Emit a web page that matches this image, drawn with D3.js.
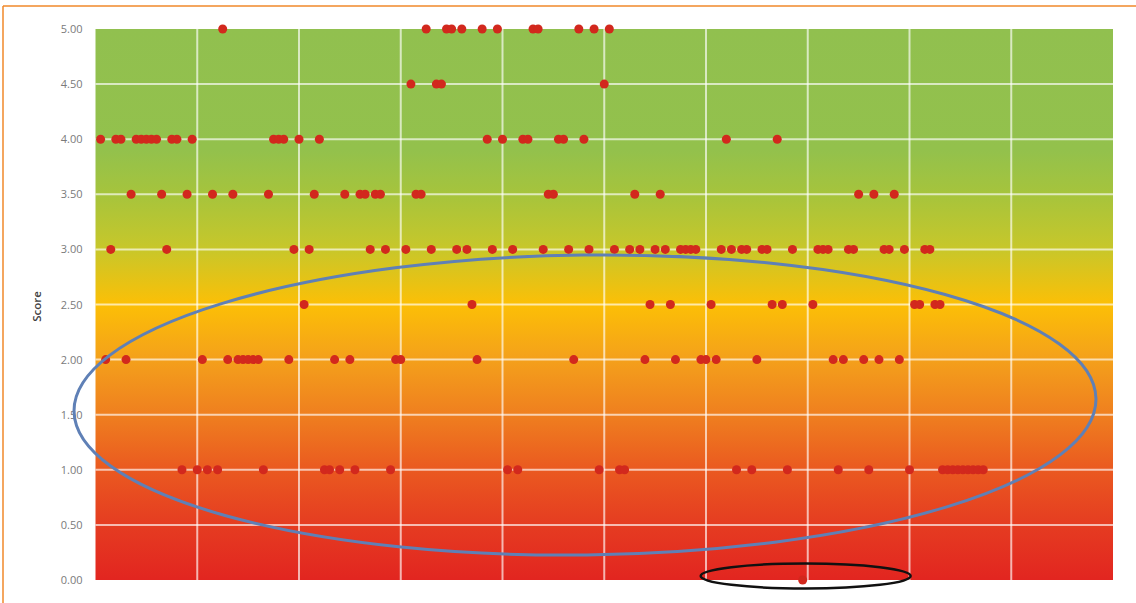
<!DOCTYPE html>
<html>
<head>
<meta charset="utf-8">
<script src="https://cdn.jsdelivr.net/npm/d3@7"></script>
<style>
  html, body { margin: 0; padding: 0; background: #ffffff; }
  svg { display: block; }
</style>
</head>
<body>
<svg id="chart" width="1136" height="603"></svg>
<script>
// Respondent positions (0–200) grouped by the score they gave
const score500 = [25, 65, 69, 70, 72, 76, 79, 86, 87, 95, 98, 101];
const score450 = [62, 67, 68, 100];
const score400 = [1, 4, 5, 8, 9, 10, 11, 12, 15, 16, 19, 35, 36, 37, 40, 44, 77, 80, 84, 85, 91, 92, 96, 124, 134];
const score350 = [7, 13, 18, 23, 27, 34, 43, 49, 52, 53, 55, 56, 63, 64, 89, 90, 106, 111, 150, 153, 157];
const score300 = [3, 14, 39, 42, 54, 57, 61, 66, 71, 73, 78, 82, 88, 93, 97, 102, 105, 107, 110, 112,
                  115, 116, 117, 118, 123, 125, 127, 128, 131, 132, 137, 142, 143, 144, 148, 149, 155, 156, 159, 163, 164];
const score250 = [41, 74, 109, 113, 121, 133, 135, 141, 161, 162, 165, 166];
const score200 = [2, 6, 21, 26, 28, 29, 30, 31, 32, 38, 47, 50, 59, 60, 75, 94, 108, 114, 119, 120, 122, 130, 145, 147, 151, 154, 158];
const score100 = [17, 20, 22, 24, 33, 45, 46, 48, 51, 58, 81, 83, 99, 103, 104, 126, 129, 136, 146, 152, 160,
                  166.5, 167.5, 168.5, 169.5, 170.5, 171.5, 172.5, 173.5, 174.5];
const score000 = [139];

const scoreLevels = [5.0, 4.5, 4.0, 3.5, 3.0, 2.5, 2.0, 1.0, 0.0];
const scoreGroups = [score500, score450, score400, score350, score300, score250, score200, score100, score000];

const yTicks = [0, 0.5, 1, 1.5, 2, 2.5, 3, 3.5, 4, 4.5, 5];
const xGridValues = [20, 40, 60, 80, 100, 120, 140, 160, 180];
const yTitle = "Score";

// Background bands: green for high scores through yellow/orange to red for low scores
const bandScores = [5.0, 3.9, 3.5, 3.0, 2.5, 2.0, 1.5, 1.0, 0.5, 0.0];
const bandColors = ["#91c04f", "#93c14c", "#a6c43c", "#c8c72a", "#fcbf06", "#f4a01b", "#ef7f1f", "#ea5920", "#e53c21", "#e22520"];

const points = [];
scoreGroups.forEach((group, i) => group.forEach(r => points.push({ respondent: r, score: scoreLevels[i] })));

const svg = d3.select("#chart");
const plotLeft = 95.5, plotRight = 1113, plotTop = 29, plotBottom = 580;

const x = d3.scaleLinear().domain([0, 200]).range([plotLeft, plotRight]);
const y = d3.scaleLinear().domain([0, 5]).range([plotBottom, plotTop]);

// Outer frame lines
svg.append("line").attr("x1", 3).attr("x2", 1136).attr("y1", 6).attr("y2", 6)
  .attr("stroke", "#f0892a").attr("stroke-width", 1.5);
svg.append("line").attr("x1", 3).attr("x2", 3).attr("y1", 6).attr("y2", 603)
  .attr("stroke", "#f0892a").attr("stroke-width", 1.5);

// Gradient plot background
const defs = svg.append("defs");
const grad = defs.append("linearGradient").attr("id", "scoreBand")
  .attr("gradientUnits", "userSpaceOnUse")
  .attr("x1", 0).attr("x2", 0).attr("y1", y(5)).attr("y2", y(0));
bandScores.forEach((s, i) => {
  grad.append("stop")
    .attr("offset", (y(s) - y(5)) / (y(0) - y(5)))
    .attr("stop-color", bandColors[i]);
});
svg.append("rect")
  .attr("x", x(0)).attr("y", y(5))
  .attr("width", x(200) - x(0)).attr("height", y(0) - y(5))
  .attr("fill", "url(#scoreBand)");

// Gridlines
const grid = svg.append("g").attr("stroke", "#ffffff").attr("stroke-opacity", 0.65).attr("stroke-width", 2);
grid.selectAll("line.h").data(yTicks.filter(t => t > 0 && t < 5)).join("line")
  .attr("class", "h")
  .attr("x1", x(0)).attr("x2", x(200))
  .attr("y1", d => y(d)).attr("y2", d => y(d));
grid.selectAll("line.v").data(xGridValues).join("line")
  .attr("class", "v")
  .attr("x1", d => x(d)).attr("x2", d => x(d))
  .attr("y1", y(5)).attr("y2", y(0));

// Y axis (labels only)
const yAxis = d3.axisLeft(y).tickValues(yTicks).tickFormat(d3.format(".2f")).tickSize(0).tickPadding(13);
const yAxisG = svg.append("g").attr("transform", `translate(${plotLeft},0)`).call(yAxis);
yAxisG.select(".domain").remove();
yAxisG.selectAll("text")
  .attr("font-family", "'Open Sans', sans-serif")
  .attr("font-size", 11)
  .attr("fill", "#7a7a7a");

svg.append("text")
  .attr("transform", `translate(41,${(y(2.0) + y(3.0)) / 2 + 2}) rotate(-90)`)
  .attr("text-anchor", "middle")
  .attr("font-family", "'Open Sans', sans-serif")
  .attr("font-size", 11.5)
  .attr("font-weight", 600)
  .attr("fill", "#404040")
  .text(yTitle);

// Respondent scores
svg.append("g").selectAll("circle").data(points).join("circle")
  .attr("cx", d => x(d.respondent))
  .attr("cy", d => y(d.score))
  .attr("r", 4.5)
  .attr("fill", "#d2281d");

// Highlight ellipses
svg.append("ellipse")
  .attr("cx", 585).attr("cy", 405).attr("rx", 511).attr("ry", 150)
  .attr("transform", "rotate(-0.7 585 405)")
  .attr("fill", "none").attr("stroke", "#5f80b6").attr("stroke-width", 3);

svg.append("ellipse")
  .attr("cx", x(139) + 3).attr("cy", 576).attr("rx", 105).attr("ry", 12.5)
  .attr("fill", "none").attr("stroke", "#111111").attr("stroke-width", 2.5);
</script>
</body>
</html>
